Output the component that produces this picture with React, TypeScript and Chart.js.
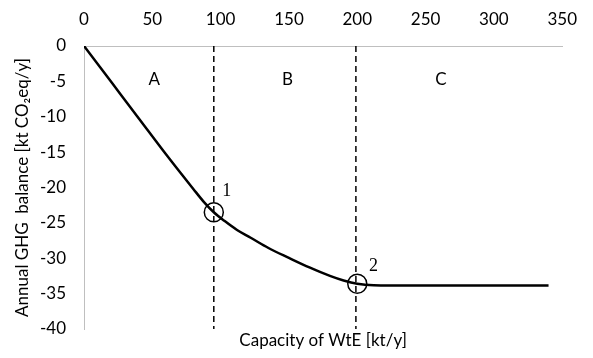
import React, { useEffect, useRef } from "react";
import { Chart, registerables } from "chart.js";

Chart.register(...registerables);

// Curve: capacity of WtE [kt/y] vs annual GHG balance [kt CO2eq/y]
const capacity = [0, 20, 40, 60, 80, 88, 95, 103, 112, 122, 135, 150, 165, 180, 190, 200, 212, 240, 300, 340];
const ghgBalance = [0, -5.1, -10.2, -15.3, -20.2, -22.1, -23.5, -24.75, -26.0, -27.1, -28.55, -29.95, -31.3, -32.5, -33.15, -33.6, -33.8, -33.85, -33.85, -33.85];

// Region boundaries (dashed lines)
const boundaryX = [95, 199];
// Marked points (circles)
const markX = [95, 200];
const markY = [-23.5, -33.6];
const markLabels = ["1", "2"];
const markLabelX = [104.4, 211.8];
const markLabelY = [-20.6, -31.2];
// Region labels
const regionLabels = ["A", "B", "C"];
const regionLabelX = [51.4, 149, 261.2];
const regionLabelY = -4.7;

// Axes
const xMin = 0, xMax = 350, xStep = 50;
const yMin = -40, yMax = 0, yStep = 5;

const textPlugin = {
  id: "annotText",
  afterDatasetsDraw(chart: any) {
    const { ctx, scales } = chart;
    const xs = scales.x, ys = scales.y;
    ctx.save();
    ctx.fillStyle = "#000";
    ctx.textAlign = "center";
    ctx.textBaseline = "middle";
    ctx.font = "17px Lato";
    regionLabels.forEach((t, i) => {
      ctx.fillText(t, xs.getPixelForValue(regionLabelX[i]), ys.getPixelForValue(regionLabelY));
    });
    ctx.font = "18px 'Liberation Serif'";
    markLabels.forEach((t, i) => {
      ctx.fillText(t, xs.getPixelForValue(markLabelX[i]), ys.getPixelForValue(markLabelY[i]));
    });
    ctx.restore();
  },
};

export default function App() {
  const ref = useRef<HTMLCanvasElement | null>(null);
  useEffect(() => {
    if (!ref.current) return;
    const datasets: any[] = [
      {
        label: "curve",
        data: capacity.map((x, i) => ({ x, y: ghgBalance[i] })),
        borderColor: "#000",
        borderWidth: 2.5,
        pointRadius: 0,
        cubicInterpolationMode: "monotone",
        fill: false,
      },
      ...boundaryX.map((bx) => ({
        label: "boundary",
        data: [{ x: bx, y: yMax }, { x: bx, y: yMin }],
        borderColor: "#000",
        borderWidth: 1.5,
        borderDash: [6, 4],
        pointRadius: 0,
        fill: false,
      })),
      {
        label: "marks",
        type: "scatter",
        data: markX.map((x, i) => ({ x, y: markY[i] })),
        showLine: false,
        pointStyle: "circle",
        pointRadius: 9.5,
        pointBorderWidth: 1.5,
        pointBorderColor: "#000",
        pointBackgroundColor: "rgba(0,0,0,0)",
      },
    ];
    const chart = new Chart(ref.current, {
      type: "line",
      data: { datasets },
      plugins: [textPlugin],
      options: {
        animation: false,
        responsive: false,
        layout: { padding: { left: 0, right: 25, top: 0, bottom: 0 } },
        plugins: { legend: { display: false }, tooltip: { enabled: false } },
        scales: {
          x: {
            type: "linear",
            position: "top",
            min: xMin,
            max: xMax,
            grid: { display: false, drawTicks: false },
            border: { display: true, color: "#bfbfbf", width: 1 },
            ticks: { stepSize: xStep, padding: 16, color: "#000", font: { family: "Lato", size: 17 } },
            afterFit: (s: any) => { s.height = 46; },
          },
          xb: {
            type: "linear",
            position: "bottom",
            min: xMin,
            max: xMax,
            grid: { display: false, drawTicks: false },
            border: { display: false },
            ticks: { display: false },
            title: { display: true, text: "Capacity of WtE [kt/y]", color: "#000", font: { family: "Lato", size: 17 }, padding: { top: 0, bottom: 7 } },
            afterFit: (s: any) => { s.height = 29; },
          },
          y: {
            type: "linear",
            position: "left",
            min: yMin,
            max: yMax,
            grid: { display: false, drawTicks: false },
            border: { display: true, color: "#bfbfbf", width: 1 },
            ticks: { stepSize: yStep, padding: 18, color: "#000", font: { family: "Lato", size: 17 } },
            title: { display: true, text: "Annual GHG  balance [kt CO\u2082eq/y]", color: "#000", font: { family: "Lato", size: 17 }, padding: { top: 12, bottom: 0 } },
            afterFit: (s: any) => { s.width = 84; },
          },
        },
      } as any,
    });
    return () => chart.destroy();
  }, []);
  return (
    <div style={{ position: "fixed", left: 0, top: 0, width: 593, height: 358, background: "#fff" }}>
      <canvas ref={ref} width={593} height={358} style={{ width: 593, height: 358, display: "block" }} />
    </div>
  );
}
